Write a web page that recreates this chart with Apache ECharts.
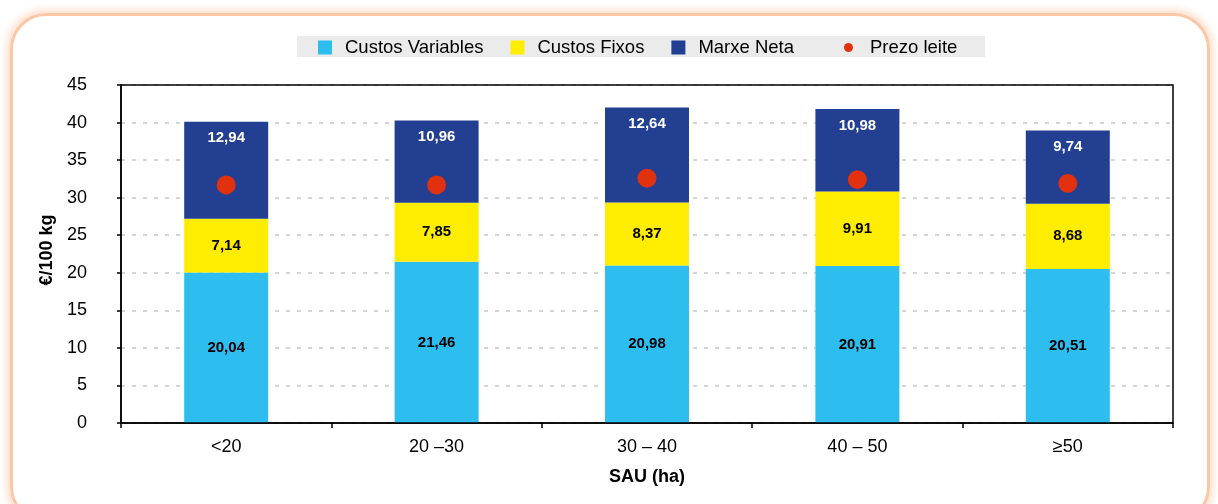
<!DOCTYPE html>
<html>
<head>
<meta charset="utf-8">
<script src="https://cdn.jsdelivr.net/npm/echarts@6/dist/echarts.min.js"></script>
<style>
html, body {
  margin: 0;
  padding: 0;
  background: #fff;
  overflow: hidden;
}
.frame {
  position: absolute;
  left: 10px;
  top: 13px;
  width: 1200px;
  height: 510px;
  box-sizing: border-box;
  border: 3px solid #fcc7a6;
  border-radius: 36px;
  box-shadow: 0 0 7px 4px #fde2d0;
}
#myChart {
  position: absolute;
  left: 0;
  top: 0;
  width: 1218px;
  height: 504px;
}
</style>
</head>
<body>
<div class="frame"></div>
<div id="myChart"></div>
<script>
// datos
var categories = ['<20', '20 –30', '30 – 40', '40 – 50', '≥50'];
var custosVariables = [20.04, 21.46, 20.98, 20.91, 20.51];
var custosFixos = [7.14, 7.85, 8.37, 9.91, 8.68];
var marxeNeta = [12.94, 10.96, 12.64, 10.98, 9.74];
var prezoLeite = [31.7, 31.7, 32.6, 32.4, 31.9];

var FONT = '"Liberation Sans", Arial, sans-serif';

// formato con coma decimal
function fmt(p) {
  return p.value.toFixed(2).replace('.', ',');
}

var chart = echarts.init(document.getElementById('myChart'));

chart.setOption({
  backgroundColor: 'transparent',
  animation: false,
  textStyle: { fontFamily: FONT },
  graphic: [{
    type: 'rect',
    shape: { x: 297, y: 36, width: 688, height: 21 },
    style: { fill: '#ebebeb' },
    z: -1
  }],
  legend: [{
    left: 318,
    top: 38,
    padding: 0,
    itemWidth: 14,
    itemHeight: 14,
    itemGap: 27,
    textStyle: { fontSize: 18.5, color: '#000', padding: [0, 0, 0, 8] },
    data: [
      { name: 'Custos Variables', icon: 'rect' },
      { name: 'Custos Fixos', icon: 'rect' },
      { name: 'Marxe Neta', icon: 'rect' }
    ]
  }, {
    left: 844,
    top: 38,
    padding: 0,
    itemWidth: 9,
    itemHeight: 9,
    textStyle: { fontSize: 18.5, color: '#000', padding: [0, 0, 0, 12] },
    data: [{ name: 'Prezo leite', icon: 'circle', itemStyle: { opacity: 1 } }]
  }],
  grid: {
    left: 121,
    right: 45,
    top: 85,
    bottom: 81,
    show: true,
    z: 3,
    borderColor: '#000',
    borderWidth: 1.5
  },
  xAxis: {
    type: 'category',
    data: categories,
    name: 'SAU (ha)',
    nameLocation: 'middle',
    nameGap: 45,
    nameTextStyle: { fontSize: 18, fontWeight: 'bold', color: '#000' },
    axisLine: { lineStyle: { color: '#000', width: 1.5 } },
    axisTick: { show: true, length: 5, lineStyle: { color: '#000', width: 1.5 } },
    axisLabel: { fontSize: 18, color: '#000', margin: 15 }
  },
  yAxis: {
    type: 'value',
    min: 0,
    max: 45,
    interval: 5,
    name: '€/100 kg',
    nameLocation: 'middle',
    nameGap: 62,
    nameTextStyle: { fontSize: 18, fontWeight: 'bold', color: '#000', padding: [0, 0, 0, 8] },
    axisLine: { show: true, lineStyle: { color: '#000', width: 1.5 } },
    axisTick: { show: true, length: 4, lineStyle: { color: '#000', width: 1.5 } },
    axisLabel: { fontSize: 18, color: '#000', margin: 34 },
    splitLine: {
      show: true,
      lineStyle: { color: '#c8c8c8', type: [4, 7], width: 1.5 }
    }
  },
  series: [{
    name: 'Custos Variables',
    type: 'bar',
    stack: 'total',
    barWidth: 84,
    itemStyle: { color: '#2dbdee' },
    label: {
      show: true,
      position: 'inside',
      formatter: fmt,
      fontSize: 15,
      fontWeight: 'bold',
      color: '#000'
    },
    data: custosVariables
  }, {
    name: 'Custos Fixos',
    type: 'bar',
    stack: 'total',
    itemStyle: { color: '#ffed00' },
    label: {
      show: true,
      position: 'inside',
      formatter: fmt,
      fontSize: 15,
      fontWeight: 'bold',
      color: '#000'
    },
    data: custosFixos
  }, {
    name: 'Marxe Neta',
    type: 'bar',
    stack: 'total',
    itemStyle: { color: '#223f91' },
    label: {
      show: true,
      position: 'insideTop',
      distance: 9,
      formatter: fmt,
      fontSize: 15,
      fontWeight: 'bold',
      color: '#fff'
    },
    data: marxeNeta
  }, {
    name: 'Prezo leite',
    type: 'scatter',
    symbol: 'circle',
    symbolSize: 19,
    itemStyle: { color: '#e2310f', opacity: 1 },
    z: 5,
    data: prezoLeite
  }]
});
</script>
</body>
</html>
